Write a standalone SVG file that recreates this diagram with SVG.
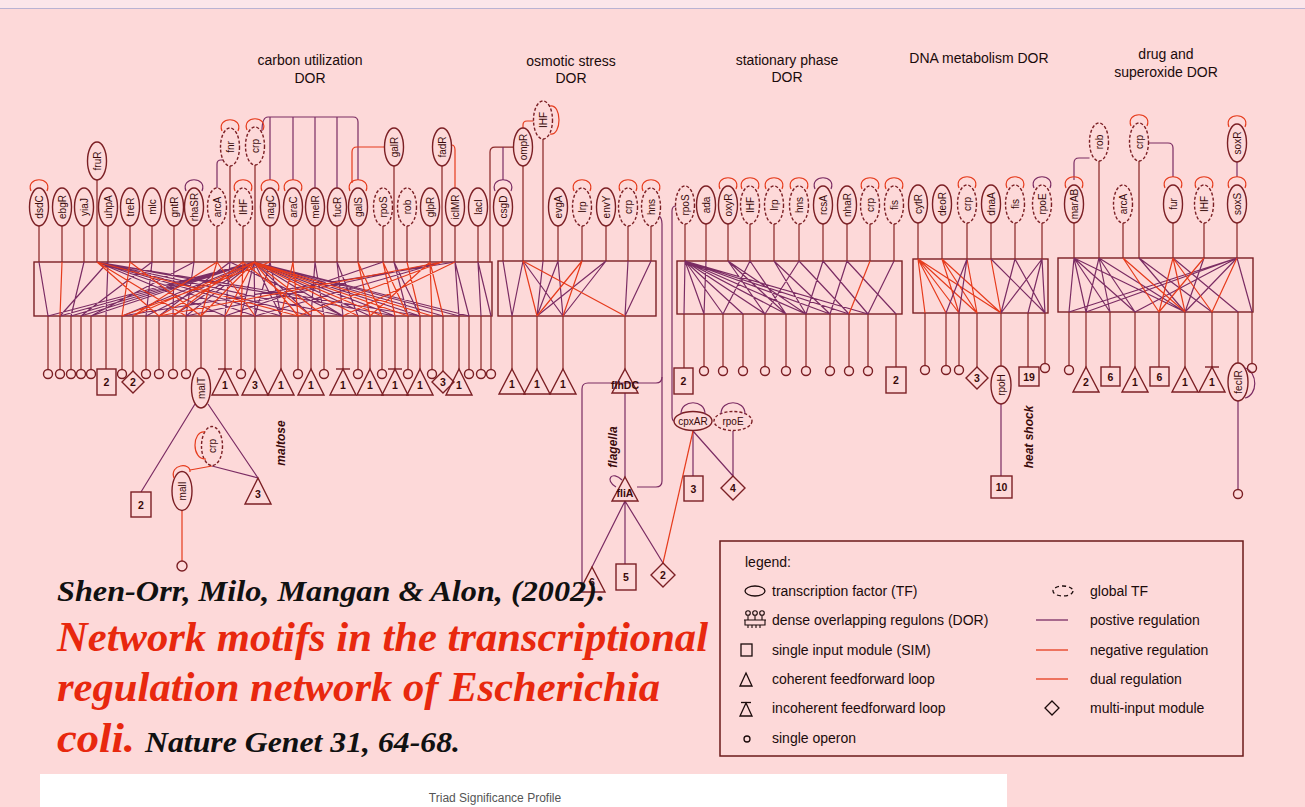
<svg xmlns="http://www.w3.org/2000/svg" width="1305" height="807" viewBox="0 0 1305 807">
<style>
.bg{fill:#FDD9D9}
.e{fill:none;stroke:#7B1F24;stroke-width:1.4}
.g{stroke-dasharray:3 2}
.w{fill:none;stroke:#8C2A2A;stroke-width:1.25}
.p{fill:none;stroke:#7B2C63;stroke-width:1.2}
.n{fill:none;stroke:#E63B1C;stroke-width:1.2}
.box{fill:none;stroke:#7B1F24;stroke-width:1.4}
.m{fill:none;stroke:#7B1F24;stroke-width:1.4}
.t{font-family:"Liberation Sans",Arial,sans-serif;font-size:10px;fill:#3A0A0A;text-anchor:middle;dominant-baseline:central}
.ml{font-family:"Liberation Sans",Arial,sans-serif;font-size:10.5px;font-weight:bold;fill:#3A0A0A;text-anchor:middle;dominant-baseline:central}
.h{font-family:"Liberation Sans",Arial,sans-serif;font-size:14px;fill:#1B0B0B;text-anchor:middle}
.it{font-family:"Liberation Sans",Arial,sans-serif;font-size:12px;font-weight:bold;font-style:italic;fill:#3A0A0A;text-anchor:middle;dominant-baseline:central}
.lg{font-family:"Liberation Sans",Arial,sans-serif;font-size:14px;fill:#1B0B0B}
.cit{font-family:"Liberation Serif","Times New Roman",serif;font-weight:bold;font-style:italic}
</style>
<defs>
<path id="lp" d="M-8,3 C-14,-12 14,-12 8,3"/>
</defs>
<rect class="bg" x="0" y="0" width="1305" height="807"/>
<rect x="0" y="0" width="1305" height="8" fill="#FBE6EA"/>
<line x1="0" y1="8.5" x2="1305" y2="8.5" stroke="#B9B3D3" stroke-width="1.2"/>

<!-- headers -->
<g id="headers">
<text class="h" x="310" y="65">carbon utilization</text>
<text class="h" x="310" y="83">DOR</text>
<text class="h" x="571" y="66">osmotic stress</text>
<text class="h" x="571" y="83">DOR</text>
<text class="h" x="787" y="65">stationary phase</text>
<text class="h" x="787" y="82">DOR</text>
<text class="h" x="979" y="63">DNA metabolism DOR</text>
<text class="h" x="1166" y="59">drug and</text>
<text class="h" x="1166" y="77">superoxide DOR</text>
</g>

<!-- DOR boxes -->
<g id="dor-carbon"><rect class="box" x="34" y="262" width="458" height="54"/></g>
<g id="dor-osmotic"><rect class="box" x="498" y="261" width="158" height="55"/></g>
<g id="dor-stationary"><rect class="box" x="677" y="261" width="225" height="53"/></g>
<g id="dor-dna"><rect class="box" x="913" y="259" width="135" height="54"/></g>
<g id="dor-drug"><rect class="box" x="1058" y="258" width="195" height="54"/></g>

<g id="connectors">
<path class="w" d="M39,226V262M62,226V262M84,226V262M108,226V262M130,226V262M152,226V262M174,226V262M194,226V262M217,226V262M243,226V262M270,226V262M293,226V262M315,226V262M337,226V262M358,226V262M383,226V262M407,226V262M430,226V262M455,226V262M478,226V262M97,180V262M230,166V262M255,165V262M394,166V262M442,166V262"/>
<path class="w" d="M48,316V369.5M60,316V369.5M71,316V369.5M81,316V369.5M91,316V369.5M106,316V369M122,316V369.5M133,316V371M146,316V369.5M159,316V369.5M173,316V369.5M186,316V369.5M201,316V368M225,316V369M241,316V369.5M255,316V369M281,316V369M298,316V369.5M311,316V369M324,316V369.5M343,316V369M358,316V369.5M370,316V369M382,316V369.5M395,316V369M408,316V369.5M420,316V369M432,316V369.5M443,316V371M459,316V369M469,316V369.5M481,316V369.5M491,316V369.5"/>
<path class="p" d="M254,262L48,316M254,262L60,316M254,262L71,316M254,262L81,316M254,262L91,316M254,262L122,316M254,262L146,316M254,262L173,316M254,262L186,316M254,262L241,316M254,262L255,316M254,262L281,316M254,262L311,316M254,262L343,316M254,262L370,316M254,262L395,316M254,262L420,316M254,262L443,316M254,262L459,316M254,262L469,316M97,262L225,316M97,262L255,316M97,262L281,316M97,262L311,316M97,262L343,316M97,262L395,316M97,262L420,316M39,262L48,316M84,262L71,316M108,262L106,316M108,262L60,316M152,262L146,316M152,262L81,316M174,262L173,316M194,262L186,316M194,262L91,316M230,262L159,316M230,262L225,316M230,262L343,316M270,262L255,316M270,262L281,316M315,262L311,316M315,262L324,316M337,262L343,316M337,262L358,316M394,262L408,316M394,262L420,316M455,262L459,316M455,262L469,316M455,262L122,316M478,262L481,316M478,262L491,316M442,262L255,316M442,262L186,316M383,262L225,316"/>
<path class="n" d="M254,262L133,316M254,262L159,316M254,262L201,316M254,262L225,316M254,262L298,316M254,262L324,316M254,262L358,316M254,262L382,316M254,262L408,316M254,262L432,316M97,262L159,316M97,262L186,316M97,262L298,316M62,262L60,316M130,262L122,316M130,262L201,316M217,262L133,316M217,262L201,316M217,262L255,316M243,262L173,316M243,262L241,316M243,262L311,316M270,262L122,316M293,262L281,316M293,262L298,316M358,262L370,316M358,262L382,316M383,262L395,316M383,262L408,316M407,262L420,316M430,262L432,316M430,262L443,316M430,262L370,316M442,262L159,316M442,262L298,316M455,262L343,316"/>
<path class="p" d="M217,188V164Q217,160 221,160H223"/>
<path class="p" d="M262,131Q262,117 268,117H353Q358,117 358,122V180M270,117V180M293,117V180M315,117V188M337,117V188"/>
<path class="n" d="M352,183V152Q352,147 357,147H384.5"/>
<path class="n" d="M451.5,145Q455,145 455,150V188"/>
<path class="w" d="M513.5,147H495Q490,147 490,152V262"/>
<path class="p" d="M503,147V180"/>
<path class="n" d="M523,128V125Q523,121 527,121H533.5"/>
<path class="w" d="M503,226V261M558,226V261M582,226V261M606,226V261M628,226V261M651,226V261M523,166V261M543,139V261"/>
<path class="w" d="M512,316V369M537,316V369M563,316V369M625,316V369"/>
<path class="p" d="M503,261L512,316M523,261L512,316M523,261L563,316M543,261L537,316M558,261L537,316M558,261L563,316M606,261L537,316M606,261L563,316M628,261L625,316M651,261L625,316"/>
<path class="n" d="M523,261L537,316M523,261L625,316M582,261L537,316M582,261L563,316"/>
<path class="w" d="M685,224V261M706,224V261M728,224V261M750,224V261M774,224V261M799,224V261M823,224V261M847,224V261M870,224V261M894,224V261"/>
<path class="w" d="M684,314V368M704,314V366.5M723,314V366.5M743,314V366.5M765,314V366.5M786,314V366.5M806,314V366.5M830,314V366.5M849,314V366.5M868,314V366.5M896,314V367"/>
<path class="p" d="M685,261L684,314M685,261L704,314M685,261L723,314M685,261L743,314M685,261L765,314M685,261L786,314M685,261L806,314M685,261L830,314M685,261L849,314M685,261L868,314M706,261L704,314M728,261L765,314M728,261L786,314M728,261L806,314M750,261L723,314M750,261L786,314M774,261L806,314M774,261L830,314M799,261L765,314M799,261L849,314M823,261L806,314M823,261L868,314M847,261L830,314M847,261L896,314M894,261L868,314"/>
<path class="n" d="M870,261L849,314"/>
<path class="w" d="M918,223V259M942,223V259M967,223V259M991,223V259M1015,223V259M1042,223V259"/>
<path class="w" d="M925,313V365.5M946,313V365.5M959,313V365.5M977,313V367M1001,313V366M1028,313V367M1045,313V363.5"/>
<path class="n" d="M918,259L925,313M918,259L946,313M918,259L959,313M918,259L977,313M918,259L1001,313M942,259L959,313M942,259L977,313M942,259L1001,313M967,259L977,313M991,259L1001,313"/>
<path class="p" d="M967,259L946,313M967,259L959,313M1015,259L1045,313M1015,259L1001,313M1042,259L1001,313M1042,259L1028,313M1042,259L1045,313M991,259L1045,313"/>
<path class="p" d="M1074,180V163Q1074,158 1079,158H1089.5"/>
<path class="p" d="M1148.5,143H1168Q1173,143 1173,148V177"/>
<path class="p" d="M1237,162V177"/>
<path class="w" d="M1074,223V258M1123,223V258M1173,223V258M1204,223V258M1237,223V258M1099,161V258M1139,161V258"/>
<path class="w" d="M1069,312V365.5M1086,312V367M1110,312V367M1135,312V367M1159,312V367M1185,312V367M1212,312V367M1238,312V363M1252,312V363.5"/>
<path class="p" d="M1074,258L1069,312M1074,258L1086,312M1074,258L1110,312M1074,258L1135,312M1074,258L1185,312M1099,258L1086,312M1099,258L1110,312M1099,258L1135,312M1099,258L1185,312M1237,258L1069,312M1237,258L1086,312M1237,258L1135,312M1237,258L1185,312M1237,258L1252,312M1139,258L1185,312M1139,258L1212,312M1204,258L1185,312M1173,258L1238,312"/>
<path class="n" d="M1123,258L1159,312M1123,258L1185,312M1173,258L1159,312M1173,258L1185,312M1173,258L1212,312M1204,258L1159,312M1237,258L1212,312"/>
<path class="p" d="M195,404L141,492M208,404L258,478M212,466L258,478"/>
<path class="n" d="M212,466L190,470M182,511V561"/>
<path class="p" d="M625,393V477M625,501L592,567M625,501L625,564M625,501L663,563"/>
<path class="p" d="M659,216Q662,218 662,224V481Q662,487 656,487H637"/>
<path class="p" d="M662,377Q662,383 656,383H588Q582,383 582,389V585"/>
<path class="p" d="M675.5,206H676Q672,206 672,211V415Q672,421 674,421"/>
<path class="p" d="M693,431V476M693,431L733,476M733,431V476"/>
<path class="n" d="M693,431L663,563"/>
<path class="p" d="M1001,404V476M1238,401V489.5"/>
</g>

<g id="tf-dsdC"><ellipse class="e" cx="39" cy="207" rx="9.5" ry="19"/><use href="#lp" class="n" x="39" y="188"/><text class="t" transform="translate(39,207) rotate(-90)">dsdC</text></g>
<g id="tf-ebgR"><ellipse class="e" cx="62" cy="207" rx="9.5" ry="19"/><text class="t" transform="translate(62,207) rotate(-90)">ebgR</text></g>
<g id="tf-yiaJ"><ellipse class="e" cx="84" cy="207" rx="9.5" ry="19"/><text class="t" transform="translate(84,207) rotate(-90)">yiaJ</text></g>
<g id="tf-fruR"><ellipse class="e" cx="97" cy="161" rx="9.5" ry="19"/><text class="t" transform="translate(97,161) rotate(-90)">fruR</text></g>
<g id="tf-uhpA"><ellipse class="e" cx="108" cy="207" rx="9.5" ry="19"/><text class="t" transform="translate(108,207) rotate(-90)">uhpA</text></g>
<g id="tf-treR"><ellipse class="e" cx="130" cy="207" rx="9.5" ry="19"/><text class="t" transform="translate(130,207) rotate(-90)">treR</text></g>
<g id="tf-mlc"><ellipse class="e" cx="152" cy="207" rx="9.5" ry="19"/><text class="t" transform="translate(152,207) rotate(-90)">mlc</text></g>
<g id="tf-gntR"><ellipse class="e" cx="174" cy="207" rx="9.5" ry="19"/><text class="t" transform="translate(174,207) rotate(-90)">gntR</text></g>
<g id="tf-rhaSR"><ellipse class="e" cx="194" cy="207" rx="9.5" ry="19"/><use href="#lp" class="p" x="194" y="188"/><text class="t" transform="translate(194,207) rotate(-90)">rhaSR</text></g>
<g id="tf-arcA-c"><ellipse class="e g" cx="217" cy="207" rx="9.5" ry="19"/><text class="t" transform="translate(217,207) rotate(-90)">arcA</text></g>
<g id="tf-fnr"><ellipse class="e g" cx="230" cy="147" rx="9.5" ry="19"/><use href="#lp" class="n" x="230" y="128"/><text class="t" transform="translate(230,147) rotate(-90)">fnr</text></g>
<g id="tf-IHF-c"><ellipse class="e g" cx="243" cy="207" rx="9.5" ry="19"/><use href="#lp" class="n" x="243" y="188"/><text class="t" transform="translate(243,207) rotate(-90)">IHF</text></g>
<g id="tf-crp-c"><ellipse class="e g" cx="255" cy="146" rx="9.5" ry="19"/><use href="#lp" class="n" x="255" y="127"/><text class="t" transform="translate(255,146) rotate(-90)">crp</text></g>
<g id="tf-nagC"><ellipse class="e" cx="270" cy="207" rx="9.5" ry="19"/><use href="#lp" class="n" x="270" y="188"/><text class="t" transform="translate(270,207) rotate(-90)">nagC</text></g>
<g id="tf-araC"><ellipse class="e" cx="293" cy="207" rx="9.5" ry="19"/><use href="#lp" class="n" x="293" y="188"/><text class="t" transform="translate(293,207) rotate(-90)">araC</text></g>
<g id="tf-melR"><ellipse class="e" cx="315" cy="207" rx="9.5" ry="19"/><text class="t" transform="translate(315,207) rotate(-90)">melR</text></g>
<g id="tf-fucR"><ellipse class="e" cx="337" cy="207" rx="9.5" ry="19"/><text class="t" transform="translate(337,207) rotate(-90)">fucR</text></g>
<g id="tf-galS"><ellipse class="e" cx="358" cy="207" rx="9.5" ry="19"/><use href="#lp" class="n" x="358" y="188"/><text class="t" transform="translate(358,207) rotate(-90)">galS</text></g>
<g id="tf-rpoS-c"><ellipse class="e g" cx="383" cy="207" rx="9.5" ry="19"/><text class="t" transform="translate(383,207) rotate(-90)">rpoS</text></g>
<g id="tf-galR"><ellipse class="e" cx="394" cy="147" rx="9.5" ry="19"/><text class="t" transform="translate(394,147) rotate(-90)">galR</text></g>
<g id="tf-rob-c"><ellipse class="e g" cx="407" cy="207" rx="9.5" ry="19"/><text class="t" transform="translate(407,207) rotate(-90)">rob</text></g>
<g id="tf-glpR"><ellipse class="e" cx="430" cy="207" rx="9.5" ry="19"/><text class="t" transform="translate(430,207) rotate(-90)">glpR</text></g>
<g id="tf-fadR"><ellipse class="e" cx="442" cy="147" rx="9.5" ry="19"/><text class="t" transform="translate(442,147) rotate(-90)">fadR</text></g>
<g id="tf-iclMR"><ellipse class="e" cx="455" cy="207" rx="9.5" ry="19"/><text class="t" transform="translate(455,207) rotate(-90)">iclMR</text></g>
<g id="tf-lacI"><ellipse class="e" cx="478" cy="207" rx="9.5" ry="19"/><text class="t" transform="translate(478,207) rotate(-90)">lacI</text></g>

<g id="tf-csgD"><ellipse class="e" cx="503" cy="207" rx="9.5" ry="19"/><use href="#lp" class="p" x="503" y="188"/><text class="t" transform="translate(503,207) rotate(-90)">csgD</text></g>
<g id="tf-ompR"><ellipse class="e" cx="523" cy="147" rx="9.5" ry="19"/><text class="t" transform="translate(523,147) rotate(-90)">ompR</text></g>
<g id="tf-IHF-o"><ellipse class="e g" cx="543" cy="120" rx="9.5" ry="19"/><path class="n" d="M550,106C562,104 562,136 550,134"/><text class="t" transform="translate(543,120) rotate(-90)">IHF</text></g>
<g id="tf-evgA"><ellipse class="e" cx="558" cy="207" rx="9.5" ry="19"/><text class="t" transform="translate(558,207) rotate(-90)">evgA</text></g>
<g id="tf-lrp-o"><ellipse class="e g" cx="582" cy="207" rx="9.5" ry="19"/><use href="#lp" class="n" x="582" y="188"/><text class="t" transform="translate(582,207) rotate(-90)">lrp</text></g>
<g id="tf-envY"><ellipse class="e" cx="606" cy="207" rx="9.5" ry="19"/><text class="t" transform="translate(606,207) rotate(-90)">envY</text></g>
<g id="tf-crp-o"><ellipse class="e g" cx="628" cy="207" rx="9.5" ry="19"/><use href="#lp" class="n" x="628" y="188"/><text class="t" transform="translate(628,207) rotate(-90)">crp</text></g>
<g id="tf-hns-o"><ellipse class="e g" cx="651" cy="207" rx="9.5" ry="19"/><use href="#lp" class="n" x="651" y="188"/><text class="t" transform="translate(651,207) rotate(-90)">hns</text></g>

<g id="tf-rpoS-s"><ellipse class="e g" cx="685" cy="205" rx="9.5" ry="19"/><text class="t" transform="translate(685,205) rotate(-90)">rpoS</text></g>
<g id="tf-ada"><ellipse class="e" cx="706" cy="205" rx="9.5" ry="19"/><text class="t" transform="translate(706,205) rotate(-90)">ada</text></g>
<g id="tf-oxyR"><ellipse class="e" cx="728" cy="205" rx="9.5" ry="19"/><use href="#lp" class="n" x="728" y="186"/><text class="t" transform="translate(728,205) rotate(-90)">oxyR</text></g>
<g id="tf-IHF-s"><ellipse class="e g" cx="750" cy="205" rx="9.5" ry="19"/><use href="#lp" class="n" x="750" y="186"/><text class="t" transform="translate(750,205) rotate(-90)">IHF</text></g>
<g id="tf-lrp-s"><ellipse class="e g" cx="774" cy="205" rx="9.5" ry="19"/><use href="#lp" class="n" x="774" y="186"/><text class="t" transform="translate(774,205) rotate(-90)">lrp</text></g>
<g id="tf-hns-s"><ellipse class="e g" cx="799" cy="205" rx="9.5" ry="19"/><use href="#lp" class="n" x="799" y="186"/><text class="t" transform="translate(799,205) rotate(-90)">hns</text></g>
<g id="tf-rcsA"><ellipse class="e" cx="823" cy="205" rx="9.5" ry="19"/><use href="#lp" class="p" x="823" y="186"/><text class="t" transform="translate(823,205) rotate(-90)">rcsA</text></g>
<g id="tf-nhaR"><ellipse class="e" cx="847" cy="205" rx="9.5" ry="19"/><text class="t" transform="translate(847,205) rotate(-90)">nhaR</text></g>
<g id="tf-crp-s"><ellipse class="e g" cx="870" cy="205" rx="9.5" ry="19"/><use href="#lp" class="n" x="870" y="186"/><text class="t" transform="translate(870,205) rotate(-90)">crp</text></g>
<g id="tf-fis-s"><ellipse class="e g" cx="894" cy="205" rx="9.5" ry="19"/><use href="#lp" class="n" x="894" y="186"/><text class="t" transform="translate(894,205) rotate(-90)">fis</text></g>

<g id="tf-cytR"><ellipse class="e" cx="918" cy="204" rx="9.5" ry="19"/><text class="t" transform="translate(918,204) rotate(-90)">cytR</text></g>
<g id="tf-deoR"><ellipse class="e" cx="942" cy="204" rx="9.5" ry="19"/><text class="t" transform="translate(942,204) rotate(-90)">deoR</text></g>
<g id="tf-crp-d"><ellipse class="e g" cx="967" cy="204" rx="9.5" ry="19"/><use href="#lp" class="n" x="967" y="185"/><text class="t" transform="translate(967,204) rotate(-90)">crp</text></g>
<g id="tf-dnaA"><ellipse class="e" cx="991" cy="204" rx="9.5" ry="19"/><text class="t" transform="translate(991,204) rotate(-90)">dnaA</text></g>
<g id="tf-fis-d"><ellipse class="e g" cx="1015" cy="204" rx="9.5" ry="19"/><use href="#lp" class="n" x="1015" y="185"/><text class="t" transform="translate(1015,204) rotate(-90)">fis</text></g>
<g id="tf-rpoE-d"><ellipse class="e g" cx="1042" cy="204" rx="9.5" ry="19"/><use href="#lp" class="p" x="1042" y="185"/><text class="t" transform="translate(1042,204) rotate(-90)">rpoE</text></g>

<g id="tf-marAB"><ellipse class="e" cx="1074" cy="204" rx="9.5" ry="19"/><use href="#lp" class="n" x="1074" y="185"/><text class="t" transform="translate(1074,204) rotate(-90)">marAB</text></g>
<g id="tf-rob-x"><ellipse class="e g" cx="1099" cy="142" rx="9.5" ry="19"/><text class="t" transform="translate(1099,142) rotate(-90)">rob</text></g>
<g id="tf-arcA-x"><ellipse class="e g" cx="1123" cy="204" rx="9.5" ry="19"/><text class="t" transform="translate(1123,204) rotate(-90)">arcA</text></g>
<g id="tf-crp-x"><ellipse class="e g" cx="1139" cy="142" rx="9.5" ry="19"/><use href="#lp" class="n" x="1139" y="123"/><text class="t" transform="translate(1139,142) rotate(-90)">crp</text></g>
<g id="tf-fur"><ellipse class="e" cx="1173" cy="204" rx="9.5" ry="19"/><use href="#lp" class="n" x="1173" y="185"/><text class="t" transform="translate(1173,204) rotate(-90)">fur</text></g>
<g id="tf-IHF-x"><ellipse class="e g" cx="1204" cy="204" rx="9.5" ry="19"/><use href="#lp" class="n" x="1204" y="185"/><text class="t" transform="translate(1204,204) rotate(-90)">IHF</text></g>
<g id="tf-soxS"><ellipse class="e" cx="1237" cy="204" rx="9.5" ry="19"/><use href="#lp" class="n" x="1237" y="185"/><text class="t" transform="translate(1237,204) rotate(-90)">soxS</text></g>
<g id="tf-soxR"><ellipse class="e" cx="1237" cy="143" rx="9.5" ry="19"/><use href="#lp" class="n" x="1237" y="124"/><text class="t" transform="translate(1237,143) rotate(-90)">soxR</text></g>

<g id="carbon-operons"><circle class="m" cx="48" cy="374" r="4.5"/><circle class="m" cx="60" cy="374" r="4.5"/><circle class="m" cx="71" cy="374" r="4.5"/><circle class="m" cx="81" cy="374" r="4.5"/><circle class="m" cx="91" cy="374" r="4.5"/><circle class="m" cx="122" cy="374" r="4.5"/><circle class="m" cx="146" cy="374" r="4.5"/><circle class="m" cx="159" cy="374" r="4.5"/><circle class="m" cx="173" cy="374" r="4.5"/><circle class="m" cx="186" cy="374" r="4.5"/><circle class="m" cx="241" cy="374" r="4.5"/><circle class="m" cx="298" cy="374" r="4.5"/><circle class="m" cx="324" cy="374" r="4.5"/><circle class="m" cx="358" cy="374" r="4.5"/><circle class="m" cx="382" cy="374" r="4.5"/><circle class="m" cx="408" cy="374" r="4.5"/><circle class="m" cx="432" cy="374" r="4.5"/><circle class="m" cx="469" cy="374" r="4.5"/><circle class="m" cx="481" cy="374" r="4.5"/><circle class="m" cx="491" cy="374" r="4.5"/></g>
<g id="sim-c1"><rect class="m" x="97" y="369" width="19" height="26"/><text class="ml" x="106.5" y="382">2</text></g>
<g id="mim-c1"><polygon class="m" points="133,371 144,382 133,393 122,382"/><text class="ml" x="133" y="382">2</text></g>
<g id="tf-malT"><ellipse class="e" cx="201" cy="388" rx="9.5" ry="20"/><text class="t" transform="translate(201,388) rotate(-90)">malT</text></g>
<g id="ffl-c1"><polygon class="m" points="225,369 238,395 212,395"/><line class="m" x1="218" y1="369" x2="232" y2="369"/><text class="ml" x="225" y="385">1</text></g>
<g id="ffl-c2"><polygon class="m" points="255,369 268,395 242,395"/><text class="ml" x="255" y="385">3</text></g>
<g id="ffl-c3"><polygon class="m" points="281,369 294,395 268,395"/><text class="ml" x="281" y="385">1</text></g>
<g id="ffl-c4"><polygon class="m" points="311,369 324,395 298,395"/><text class="ml" x="311" y="385">1</text></g>
<g id="ffl-c5"><polygon class="m" points="343,369 356,395 330,395"/><line class="m" x1="336" y1="369" x2="350" y2="369"/><text class="ml" x="343" y="385">1</text></g>
<g id="ffl-c6"><polygon class="m" points="370,369 383,395 357,395"/><text class="ml" x="370" y="385">1</text></g>
<g id="ffl-c7"><polygon class="m" points="395,369 408,395 382,395"/><line class="m" x1="388" y1="369" x2="402" y2="369"/><text class="ml" x="395" y="385">1</text></g>
<g id="ffl-c8"><polygon class="m" points="420,369 433,395 407,395"/><text class="ml" x="420" y="385">1</text></g>
<g id="mim-c2"><polygon class="m" points="443,371 454,382 443,393 432,382"/><text class="ml" x="443" y="382">3</text></g>
<g id="ffl-c9"><polygon class="m" points="459,369 472,395 446,395"/><text class="ml" x="459" y="385">1</text></g>

<g id="sim-malt"><rect class="m" x="131" y="492" width="20" height="25"/><text class="ml" x="141" y="505">2</text></g>
<g id="ffl-malt"><polygon class="m" points="258,478 271,504 245,504"/><text class="ml" x="258" y="494">3</text></g>
<g id="tf-crp-m"><ellipse class="e g" cx="212" cy="446" rx="10.5" ry="19.5"/><path class="n" d="M205,432C192,430 191,460 206,459"/><text class="t" transform="translate(212,446) rotate(-90)">crp</text></g>
<g id="tf-malI"><ellipse class="e" cx="182" cy="491" rx="10" ry="19.5"/><path class="n" d="M174,478C169,464 191,462 190,472"/><text class="t" transform="translate(182,491) rotate(-90)">malI</text></g>
<g id="op-malI"><circle class="m" cx="182" cy="566" r="5"/></g>
<text class="it" transform="translate(281,443) rotate(-90)">maltose</text>

<g id="ffl-o1"><polygon class="m" points="512,369 525,394 499,394"/><text class="ml" x="512" y="384">1</text></g>
<g id="ffl-o2"><polygon class="m" points="537,369 550,394 524,394"/><text class="ml" x="537" y="384">1</text></g>
<g id="ffl-o3"><polygon class="m" points="563,369 576,394 550,394"/><text class="ml" x="563" y="384">1</text></g>
<g id="ffl-flhDC"><polygon class="m" points="625,369 638,393 612,393"/><text class="ml" x="625" y="385">flhDC</text></g>
<g id="ffl-fliA"><polygon class="m" points="625,477 638,501 612,501"/><path class="p" d="M616,487C604,480 612,470 622,480"/><text class="ml" x="625" y="493">fliA</text></g>
<text class="it" transform="translate(613,447) rotate(-90)">flagella</text>
<g id="ffl-f6"><polygon class="m" points="592,567 605,592 579,592"/><text class="ml" x="592" y="582">6</text></g>
<g id="sim-f5"><rect class="m" x="616" y="564" width="20" height="26"/><text class="ml" x="626" y="577">5</text></g>
<g id="mim-f2"><polygon class="m" points="663,563 675,575 663,587 651,575"/><text class="ml" x="663" y="575">2</text></g>
<g id="tf-cpxAR"><ellipse class="e" cx="693" cy="421" rx="19" ry="9.5"/><path class="p" d="M681,414C681,399 705,399 705,414"/><text class="t" x="693" y="421">cpxAR</text></g>
<g id="tf-rpoE-f"><ellipse class="e g" cx="733" cy="421" rx="19" ry="9.5"/><path class="p" d="M721,414C721,399 745,399 745,414"/><text class="t" x="733" y="421">rpoE</text></g>
<g id="sim-cpx3"><rect class="m" x="684" y="476" width="19" height="25"/><text class="ml" x="693.5" y="489">3</text></g>
<g id="mim-cpx4"><polygon class="m" points="733,476 745,488 733,500 721,488"/><text class="ml" x="733" y="488">4</text></g>

<g id="sim-s1"><rect class="m" x="674" y="368" width="19" height="26"/><text class="ml" x="683.5" y="381">2</text></g>
<g id="stationary-operons"><circle class="m" cx="704" cy="371" r="4.5"/><circle class="m" cx="723" cy="371" r="4.5"/><circle class="m" cx="743" cy="371" r="4.5"/><circle class="m" cx="765" cy="371" r="4.5"/><circle class="m" cx="786" cy="371" r="4.5"/><circle class="m" cx="806" cy="371" r="4.5"/><circle class="m" cx="830" cy="371" r="4.5"/><circle class="m" cx="849" cy="371" r="4.5"/><circle class="m" cx="868" cy="371" r="4.5"/></g>
<g id="sim-s2"><rect class="m" x="886" y="367" width="20" height="26"/><text class="ml" x="896" y="380">2</text></g>

<g id="dna-operons"><circle class="m" cx="925" cy="370" r="4.5"/><circle class="m" cx="946" cy="370" r="4.5"/><circle class="m" cx="959" cy="370" r="4.5"/><circle class="m" cx="1045" cy="368" r="4.5"/></g>
<g id="mim-d3"><polygon class="m" points="977,367 988,378 977,389 966,378"/><text class="ml" x="977" y="378">3</text></g>
<g id="tf-rpoH"><ellipse class="e" cx="1001" cy="385" rx="10" ry="19"/><text class="t" transform="translate(1001,385) rotate(-90)">rpoH</text></g>
<g id="sim-d19"><rect class="m" x="1019" y="367" width="20" height="19"/><text class="ml" x="1029" y="376.5">19</text></g>
<g id="sim-d10"><rect class="m" x="991" y="476" width="21" height="22"/><text class="ml" x="1001.5" y="487">10</text></g>
<text class="it" transform="translate(1029,437) rotate(-90)">heat shock</text>

<g id="op-x1"><circle class="m" cx="1069" cy="370" r="4.5"/></g>
<g id="ffl-x1"><polygon class="m" points="1086,367 1099,392 1073,392"/><text class="ml" x="1086" y="382">2</text></g>
<g id="sim-x1"><rect class="m" x="1101" y="367" width="19" height="19"/><text class="ml" x="1110.5" y="376.5">6</text></g>
<g id="ffl-x2"><polygon class="m" points="1135,367 1148,392 1122,392"/><text class="ml" x="1135" y="382">1</text></g>
<g id="sim-x2"><rect class="m" x="1150" y="367" width="19" height="19"/><text class="ml" x="1159.5" y="376.5">6</text></g>
<g id="ffl-x3"><polygon class="m" points="1185,367 1198,392 1172,392"/><text class="ml" x="1185" y="382">1</text></g>
<g id="ffl-x4"><polygon class="m" points="1212,367 1225,392 1199,392"/><line class="m" x1="1205" y1="367" x2="1219" y2="367"/><text class="ml" x="1212" y="382">1</text></g>
<g id="tf-fecIR"><ellipse class="e" cx="1238" cy="382" rx="10" ry="19"/><path class="p" d="M1245,368C1258,372 1258,395 1245,398"/><text class="t" transform="translate(1238,382) rotate(-90)">fecIR</text></g>
<g id="op-x2"><circle class="m" cx="1252" cy="368" r="4.5"/></g>
<g id="op-x3"><circle class="m" cx="1238" cy="494" r="4.5"/></g>

<g id="legend">
<rect x="720" y="541" width="523" height="215" fill="none" stroke="#6B1A1A" stroke-width="1.5"/>
<text class="lg" x="745" y="567">legend:</text>
<ellipse cx="755" cy="591" rx="10" ry="5" fill="none" stroke="#1B0B0B" stroke-width="1.3"/>
<text class="lg" x="772" y="596">transcription factor (TF)</text>
<g fill="none" stroke="#1B0B0B" stroke-width="1.1"><circle cx="748" cy="613" r="2.3"/><circle cx="755" cy="613" r="2.3"/><circle cx="762" cy="613" r="2.3"/><path d="M748,615.5V620M755,615.5V620M762,615.5V620M744,620H766M745,620V625H765V620M748,625V628M752,625V628M756,625V628M760,625V628"/></g>
<text class="lg" x="772" y="625">dense overlapping regulons (DOR)</text>
<rect x="741" y="644" width="11" height="12" fill="none" stroke="#1B0B0B" stroke-width="1.3"/>
<text class="lg" x="772" y="655">single input module (SIM)</text>
<polygon points="746,673 752,686 740,686" fill="none" stroke="#1B0B0B" stroke-width="1.3"/>
<text class="lg" x="772" y="684">coherent feedforward loop</text>
<polygon points="746,703 752,716 740,716" fill="none" stroke="#1B0B0B" stroke-width="1.3"/><line x1="741" y1="702.5" x2="751" y2="702.5" stroke="#1B0B0B" stroke-width="1.3"/>
<text class="lg" x="772" y="713">incoherent feedforward loop</text>
<circle cx="747" cy="739" r="3" fill="none" stroke="#1B0B0B" stroke-width="1.3"/>
<text class="lg" x="772" y="743">single operon</text>
<ellipse cx="1063" cy="591" rx="10" ry="5" fill="none" stroke="#1B0B0B" stroke-width="1.3" stroke-dasharray="4 3"/>
<text class="lg" x="1090" y="596">global TF</text>
<line x1="1036" y1="620" x2="1068" y2="620" stroke="#7B2C63" stroke-width="1.3"/>
<text class="lg" x="1090" y="625">postive regulation</text>
<line x1="1036" y1="650" x2="1068" y2="650" stroke="#E63B1C" stroke-width="1.3"/>
<text class="lg" x="1090" y="655">negative regulation</text>
<line x1="1036" y1="679" x2="1068" y2="679" stroke="#E63B1C" stroke-width="1.3"/>
<text class="lg" x="1090" y="684">dual regulation</text>
<polygon points="1052,701 1059,708 1052,715 1045,708" fill="none" stroke="#1B0B0B" stroke-width="1.3"/>
<text class="lg" x="1090" y="713">multi-input module</text>
</g>

<g id="citation">
<text class="cit" x="57" y="601" font-size="30" fill="#111" textLength="548" lengthAdjust="spacingAndGlyphs">Shen-Orr, Milo, Mangan &amp; Alon, (2002).</text>
<text class="cit" x="57" y="651" font-size="42" fill="#E8280E" textLength="651" lengthAdjust="spacingAndGlyphs">Network motifs in the transcriptional</text>
<text class="cit" x="57" y="701" font-size="42" fill="#E8280E" textLength="603" lengthAdjust="spacingAndGlyphs">regulation network of Escherichia</text>
<text class="cit" x="57" y="752" font-size="42" fill="#E8280E" textLength="78" lengthAdjust="spacingAndGlyphs">coli.</text>
<text class="cit" x="145" y="752" font-size="29" fill="#111" textLength="315" lengthAdjust="spacingAndGlyphs">Nature Genet 31, 64-68.</text>
</g>

<rect x="40" y="774" width="967" height="33" fill="#FFFFFF"/>
<text x="495" y="802" font-family="'Liberation Sans',Arial,sans-serif" font-size="12" fill="#555" text-anchor="middle">Triad Significance Profile</text>
</svg>
